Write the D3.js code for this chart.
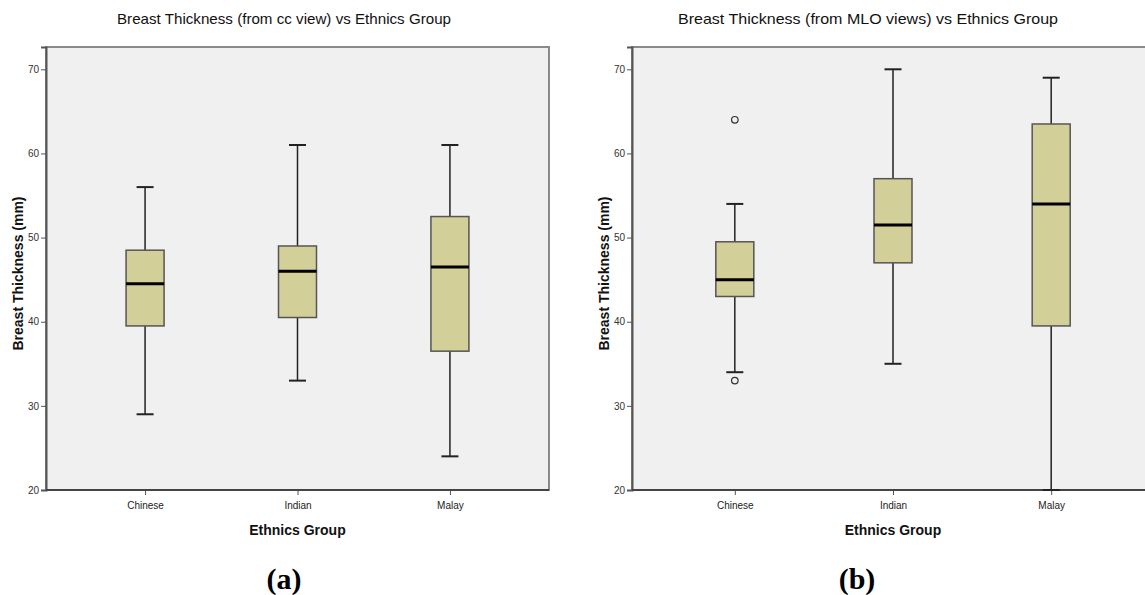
<!DOCTYPE html>
<html>
<head>
<meta charset="utf-8">
<script src="https://d3js.org/d3.v7.min.js"></script>
<style>
    body { margin: 0; background: #fff; }
    svg { display: block; font-family: "Liberation Sans", Arial, sans-serif; }
</style>
</head>
<body>
<svg id="drawing_region"></svg>
<script>
const categories = ['Chinese', 'Indian', 'Malay'];
const y_ticks = [20, 30, 40, 50, 60, 70];

// (a) cc view
const cc_min = [29, 33, 24];
const cc_q1 = [39.5, 40.5, 36.5];
const cc_median = [44.5, 46, 46.5];
const cc_q3 = [48.5, 49, 52.5];
const cc_max = [56, 61, 61];
const cc_outliers = [[], [], []];

// (b) MLO views
const mlo_min = [34, 35, 20];
const mlo_q1 = [43, 47, 39.5];
const mlo_median = [45, 51.5, 54];
const mlo_q3 = [49.5, 57, 63.5];
const mlo_max = [54, 70, 69];
const mlo_outliers = [[64, 33], [], []];

function toRows(mins, q1s, meds, q3s, maxs, outs) {
    return categories.map((c, i) => ({
        cat: c, min: mins[i], q1: q1s[i], median: meds[i], q3: q3s[i], max: maxs[i], outliers: outs[i]
    }));
}

const svg = d3.select('#drawing_region')
    .attr('width', 1145)
    .attr('height', 595);

class BoxPlot {
    constructor(config, data) {
        this.config = config;
        this.data = data;
        this.init();
    }

    init() {
        let self = this;
        const c = self.config;

        self.chart = svg.append('g');

        self.xscale = d3.scalePoint()
            .domain(categories)
            .range([c.left, c.scaleRight])
            .padding(0.65);

        self.yscale = d3.scaleLinear()
            .domain([20, 72.65])
            .range([c.bottom, c.top]);

        // plot background
        self.chart.append('rect')
            .attr('x', c.left)
            .attr('y', c.top)
            .attr('width', c.frameRight - c.left)
            .attr('height', c.bottom - c.top)
            .attr('fill', '#f0f0f0')
            .attr('stroke', '#8a8a8a')
            .attr('stroke-width', 2);

        // title
        self.chart.append('text')
            .attr('x', c.titleX)
            .attr('y', 24)
            .attr('text-anchor', 'middle')
            .attr('font-size', 15)
            .attr('textLength', c.titleLen)
            .attr('lengthAdjust', 'spacingAndGlyphs')
            .attr('fill', '#111')
            .text(c.title);

        // y label
        self.chart.append('text')
            .attr('transform', `translate(${c.left - 23}, ${(c.top + c.bottom) / 2 + 5}) rotate(-90)`)
            .attr('text-anchor', 'middle')
            .attr('font-size', 14)
            .attr('font-weight', 'bold')
            .attr('fill', '#111')
            .text('Breast Thickness (mm)');

        // x label
        self.chart.append('text')
            .attr('x', (c.left + c.scaleRight) / 2)
            .attr('y', 535)
            .attr('text-anchor', 'middle')
            .attr('font-size', 14)
            .attr('font-weight', 'bold')
            .attr('fill', '#111')
            .text('Ethnics Group');

        // panel letter
        self.chart.append('text')
            .attr('x', c.letterX)
            .attr('y', 589)
            .attr('text-anchor', 'middle')
            .attr('font-family', '"Liberation Serif", "Times New Roman", serif')
            .attr('font-size', 30)
            .attr('font-weight', 'bold')
            .attr('fill', '#000')
            .text(c.letter);
    }

    render() {
        let self = this;
        const c = self.config;
        const bw = 38, cw = 17;

        const yaxis = d3.axisLeft(self.yscale)
            .tickValues(y_ticks)
            .tickSize(5)
            .tickPadding(2);
        const yg = self.chart.append('g')
            .attr('transform', `translate(${c.left}, 0)`)
            .call(yaxis);
        yg.select('.domain').attr('stroke', '#555').attr('stroke-width', 2);
        yg.selectAll('.tick line').attr('stroke', '#555');
        yg.selectAll('.tick text').attr('font-size', 10).attr('fill', '#333')
            .attr('font-family', '"Liberation Sans Narrow", "Liberation Sans", sans-serif');

        const xaxis = d3.axisBottom(self.xscale)
            .tickSize(5)
            .tickPadding(7);
        const xg = self.chart.append('g')
            .attr('transform', `translate(0, ${c.bottom})`)
            .call(xaxis);
        xg.select('.domain').remove();
        xg.append('line')
            .attr('x1', c.left).attr('x2', c.frameRight)
            .attr('stroke', '#444').attr('stroke-width', 2);
        xg.selectAll('.tick line').attr('stroke', '#555');
        xg.selectAll('.tick text').attr('font-size', 10).attr('fill', '#222')
            .attr('font-family', '"Liberation Sans Narrow", "Liberation Sans", sans-serif');

        const g = self.chart.selectAll('.box')
            .data(self.data)
            .enter()
            .append('g')
            .attr('class', 'box')
            .attr('transform', d => `translate(${self.xscale(d.cat)}, 0)`);

        g.append('line')
            .attr('y1', d => self.yscale(d.min))
            .attr('y2', d => self.yscale(d.max))
            .attr('stroke', '#222').attr('stroke-width', 1.5);

        g.selectAll('.cap')
            .data(d => [d.min, d.max])
            .enter()
            .append('line')
            .attr('x1', -cw / 2).attr('x2', cw / 2)
            .attr('y1', v => self.yscale(v)).attr('y2', v => self.yscale(v))
            .attr('stroke', '#222').attr('stroke-width', 2);

        g.append('rect')
            .attr('x', -bw / 2)
            .attr('width', bw)
            .attr('y', d => self.yscale(d.q3))
            .attr('height', d => self.yscale(d.q1) - self.yscale(d.q3))
            .attr('fill', '#d3cf99')
            .attr('stroke', '#555')
            .attr('stroke-width', 1.5);

        g.append('line')
            .attr('x1', -bw / 2).attr('x2', bw / 2)
            .attr('y1', d => self.yscale(d.median)).attr('y2', d => self.yscale(d.median))
            .attr('stroke', '#000').attr('stroke-width', 3);

        g.selectAll('.outlier')
            .data(d => d.outliers)
            .enter()
            .append('circle')
            .attr('cy', v => self.yscale(v))
            .attr('r', 3.3)
            .attr('fill', '#f0f0f0')
            .attr('stroke', '#333')
            .attr('stroke-width', 1.2);
    }
}

const left_plot = new BoxPlot({
    left: 46, frameRight: 549, scaleRight: 549, top: 47, bottom: 490,
    titleX: 284, titleLen: 334, letterX: 284, letter: '(a)',
    title: 'Breast Thickness (from cc view) vs Ethnics Group'
}, toRows(cc_min, cc_q1, cc_median, cc_q3, cc_max, cc_outliers));
left_plot.render();

const right_plot = new BoxPlot({
    left: 632, frameRight: 1160, scaleRight: 1154, top: 47, bottom: 490,
    titleX: 868, titleLen: 380, letterX: 857, letter: '(b)',
    title: 'Breast Thickness (from MLO views) vs Ethnics Group'
}, toRows(mlo_min, mlo_q1, mlo_median, mlo_q3, mlo_max, mlo_outliers));
right_plot.render();
</script>
</body>
</html>
